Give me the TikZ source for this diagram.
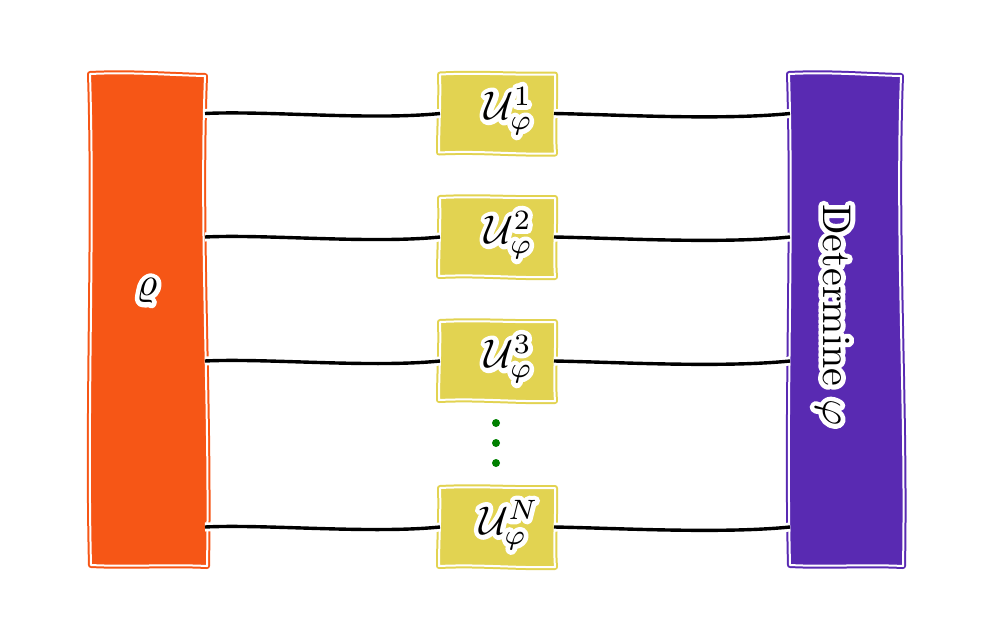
\documentclass[tikz,border=0pt]{standalone}
\usepackage{graphicx}
\usetikzlibrary{calc}
\definecolor{rhoorange}{RGB}{246,86,22}
\definecolor{uyellow}{RGB}{226,211,81}
\definecolor{detpurple}{RGB}{89,42,178}
\definecolor{dotgreen}{RGB}{0,128,0}
\tikzset{
  anchorbox/.style={inner sep=0pt, outer sep=0pt},
  handbox/.style={fill=#1, draw=#1, line width=2pt, double=white, double distance=2pt, line join=round},
  wire/.style={line width=3.4pt, draw=black, preaction={draw=white, line width=9pt}},
  bigtext/.style={inner sep=0pt},
  dot/.style={circle, fill=dotgreen, inner sep=0pt, minimum size=8pt}
}
\newcommand\myscaled[1]{\scalebox{4}{#1}}
\newcommand\halonode[4]{% name, position, options, text
  \node[#3, text=white] (#1-halo) at (#2) {\myscaled{\special{pdf:literal direct 1 Tr 2.4 w 1 J 1 j}#4\special{pdf:literal direct 0 Tr}}};
  \node[#3] (#1) at (#2) {\myscaled{#4}};}
\newcommand\wobtall[2]{%
  \path[#2] ([shift={(-1,0)}]#1.north west)
    .. controls ([shift={(40,-2)}]#1.north west) and ([shift={(-40,1)}]#1.north east) .. ([shift={(0,2)}]#1.north east)
    .. controls ([shift={(-6,160)}]#1.north east) and ([shift={(5,-160)}]#1.south east) .. ([shift={(2,0)}]#1.south east)
    .. controls ([shift={(-40,-2)}]#1.south east) and ([shift={(40,1)}]#1.south west) .. ([shift={(0,-1)}]#1.south west)
    .. controls ([shift={(-4,-160)}]#1.south west) and ([shift={(4,160)}]#1.north west) .. cycle;}
\newcommand\wobsmall[2]{%
  \path[#2] (#1.north west)
    .. controls ([shift={(40,-2)}]#1.north west) and ([shift={(-40,1)}]#1.north east) .. ([shift={(1,0)}]#1.north east)
    .. controls ([shift={(2,25)}]#1.north east) and ([shift={(-1,-25)}]#1.south east) .. ([shift={(1,1)}]#1.south east)
    .. controls ([shift={(-40,2)}]#1.south east) and ([shift={(40,-2)}]#1.south west) .. ([shift={(-1,0)}]#1.south west)
    .. controls ([shift={(-1,-25)}]#1.south west) and ([shift={(1,25)}]#1.north west) .. cycle;}
\begin{document}
\begin{tikzpicture}[x=1pt, y=-1pt]
\useasboundingbox (0,0) rectangle (994,641);
% anchor nodes
\node[anchorbox, minimum width=114pt, minimum height=492pt] (rho) at (148,320) {};
\node[anchorbox, minimum width=111pt, minimum height=492pt] (det) at (845.5,320) {};
\node[anchorbox, minimum width=114pt, minimum height=78pt] (u1) at (497,113.5) {};
\node[anchorbox, minimum width=114pt, minimum height=78pt] (u2) at (497,237) {};
\node[anchorbox, minimum width=114pt, minimum height=78pt] (u3) at (497,361) {};
\node[anchorbox, minimum width=114pt, minimum height=78pt] (uN) at (497,527) {};
% shapes
\wobtall{rho}{handbox=rhoorange}
\wobtall{det}{handbox=detpurple}
\foreach \b in {u1,u2,u3,uN}{\wobsmall{\b}{handbox=uyellow}}
% wires
\foreach \b in {u1,u2,u3,uN}{
  \draw[wire] (rho.east |- \b.west) .. controls +(60,-3) and +(-70,7) .. (\b.west);
  \draw[wire] (\b.east) .. controls +(60,1) and +(-70,7) .. (det.west |- \b.east);
}
% dots
\node[dot] (d1) at (496,423) {};
\node[dot] (d2) at (496,443) {};
\node[dot] (d3) at (496,463) {};
% texts
\halonode{rhotext}{147,291}{bigtext}{$\varrho$}
\halonode{u1text}{509,111}{bigtext}{$\mathcal{U}_\varphi^1$}
\halonode{u2text}{509,235}{bigtext}{$\mathcal{U}_\varphi^2$}
\halonode{u3text}{509,359}{bigtext}{$\mathcal{U}_\varphi^3$}
\halonode{uNtext}{509,525}{bigtext}{$\mathcal{U}_\varphi^N$}
\halonode{dettext}{833,315}{bigtext, rotate=-90}{Determine $\varphi$}
\end{tikzpicture}
\end{document}
